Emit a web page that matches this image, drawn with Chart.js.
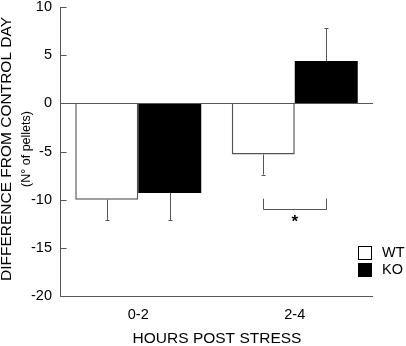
<!DOCTYPE html>
<html>
<head>
<meta charset="utf-8">
<script src="https://cdn.jsdelivr.net/npm/chart.js@4.4.0/dist/chart.umd.min.js"></script>
<style>
  html, body { margin: 0; padding: 0; background: #fff; }
  #wrap { width: 406px; height: 346px; position: relative; }
</style>
</head>
<body>
<div id="wrap"><canvas id="myChart" width="406" height="346"></canvas></div>
<script>
"use strict";
// DATA
const hours = ["0-2", "2-4"];
const wtValues = [-10.0, -5.3];
const koValues = [-9.3, 4.4];
const wtSem = [2.1, 2.1];
const koSem = [2.8, 3.4];
const yTicks = [10, 5, 0, -5, -10, -15, -20];
// significance bracket for 2-4 group (y value of the bar, height of the arms)
const sigIndex = 1;
const sigLevel = -11.0;
const sigArm = 1.1;

const lineColor = "#555555";
const font = "'Liberation Sans', Arial, sans-serif";

// HELPER: draw the axes, inward ticks, zero line, error bars, bracket and legend
const extrasPlugin = {
  id: "extras",
  afterDatasetsDraw(chart) {
    const { ctx, chartArea } = chart;
    const y = chart.scales.y;
    ctx.save();
    ctx.strokeStyle = lineColor;
    ctx.lineWidth = 1;

    // error bars (away from zero)
    const sems = [wtSem, koSem];
    chart.data.datasets.forEach((ds, di) => {
      const meta = chart.getDatasetMeta(di);
      meta.data.forEach((bar, i) => {
        const v = ds.data[i];
        const end = v < 0 ? v - sems[di][i] : v + sems[di][i];
        const x = Math.round(bar.x) + 0.5;
        const py = y.getPixelForValue(end);
        ctx.beginPath();
        ctx.moveTo(x, y.getPixelForValue(v));
        ctx.lineTo(x, py);
        ctx.moveTo(x - 2, Math.round(py) + 0.5);
        ctx.lineTo(x + 2, Math.round(py) + 0.5);
        ctx.stroke();
      });
    });

    // zero line
    const y0 = Math.round(y.getPixelForValue(0)) + 0.5;
    ctx.beginPath();
    ctx.moveTo(chartArea.left, y0);
    ctx.lineTo(chartArea.right, y0);
    ctx.stroke();

    // axes
    const left = Math.round(chartArea.left) + 0.5;
    const bottom = Math.round(chartArea.bottom) + 0.5;
    ctx.beginPath();
    ctx.moveTo(left, chartArea.top);
    ctx.lineTo(left, bottom);
    ctx.lineTo(chartArea.right, bottom);
    ctx.stroke();

    // inward ticks
    yTicks.forEach((t) => {
      const ty = Math.round(y.getPixelForValue(t)) + 0.5;
      ctx.beginPath();
      ctx.moveTo(left, ty);
      ctx.lineTo(left + 6, ty);
      ctx.stroke();
    });

    // significance bracket
    const xa = chart.getDatasetMeta(0).data[sigIndex].x;
    const xb = chart.getDatasetMeta(1).data[sigIndex].x;
    const by = Math.round(y.getPixelForValue(sigLevel)) + 0.5;
    const ty = y.getPixelForValue(sigLevel + sigArm);
    ctx.beginPath();
    ctx.moveTo(Math.round(xa) + 0.5, ty);
    ctx.lineTo(Math.round(xa) + 0.5, by);
    ctx.lineTo(Math.round(xb) + 0.5, by);
    ctx.lineTo(Math.round(xb) + 0.5, ty);
    ctx.stroke();
    ctx.fillStyle = "#000";
    ctx.font = "bold 17px " + font;
    ctx.textAlign = "center";
    ctx.textBaseline = "top";
    ctx.fillText("*", (xa + xb) / 2, by + 4);

    // legend
    ctx.font = "14.5px " + font;
    ctx.textAlign = "left";
    ctx.textBaseline = "middle";
    chart.data.datasets.forEach((ds, di) => {
      const lx = 358;
      const ly = 246 + di * 17;
      ctx.fillStyle = ds.backgroundColor;
      ctx.fillRect(lx, ly, 14, 14);
      ctx.strokeStyle = "#000";
      ctx.strokeRect(lx + 0.5, ly + 0.5, 13, 13);
      ctx.fillStyle = "#000";
      ctx.fillText(ds.label, lx + 24, ly + 7);
    });

    // axis titles
    ctx.textAlign = "center";
    ctx.textBaseline = "middle";
    ctx.font = "15.5px " + font;
    ctx.fillText("HOURS POST STRESS", 217, 339);
    ctx.save();
    ctx.translate(7, 149);
    ctx.rotate(-Math.PI / 2);
    ctx.font = "15.5px " + font;
    ctx.fillText("DIFFERENCE FROM CONTROL DAY", 0, 0);
    ctx.restore();
    ctx.save();
    ctx.translate(27, 149);
    ctx.rotate(-Math.PI / 2);
    ctx.font = "12.5px " + font;
    ctx.fillText("(N\u00b0 of pellets)", 0, 0);
    ctx.restore();

    ctx.restore();
  },
};

const data = {
  labels: hours,
  datasets: [
    {
      label: "WT",
      data: wtValues,
      backgroundColor: "#ffffff",
      borderColor: lineColor,
      borderWidth: 1.5,
      borderSkipped: "start",
    },
    {
      label: "KO",
      data: koValues,
      backgroundColor: "#000000",
      borderColor: "#000000",
      borderWidth: 0,
    },
  ],
};

const config = {
  type: "bar",
  data: data,
  options: {
    responsive: false,
    animation: false,
    events: [],
    layout: { padding: { top: 7, right: 33, left: 0, bottom: 0 } },
    datasets: {
      bar: { barPercentage: 1, categoryPercentage: 0.805 },
    },
    plugins: {
      legend: { display: false },
      tooltip: { enabled: false },
    },
    scales: {
      x: {
        grid: { display: false, drawTicks: false },
        border: { display: false },
        ticks: {
          color: "#000",
          font: { family: font, size: 14.5 },
          padding: 10,
        },
        afterFit(scale) {
          scale.height = 50;
          scale.paddingLeft = 0;
          scale.paddingRight = 0;
        },
      },
      y: {
        min: -20,
        max: 10,
        grid: { display: false, drawTicks: false },
        border: { display: false },
        afterBuildTicks(scale) {
          scale.ticks = yTicks.map((v) => ({ value: v }));
        },
        ticks: {
          color: "#000",
          font: { family: font, size: 14.5 },
          padding: 8,
        },
        afterFit(scale) {
          scale.width = 60;
          scale.paddingTop = 0;
          scale.paddingBottom = 0;
        },
      },
    },
  },
  plugins: [extrasPlugin],
};

const myChart = new Chart(document.getElementById("myChart"), config);
</script>
</body>
</html>
